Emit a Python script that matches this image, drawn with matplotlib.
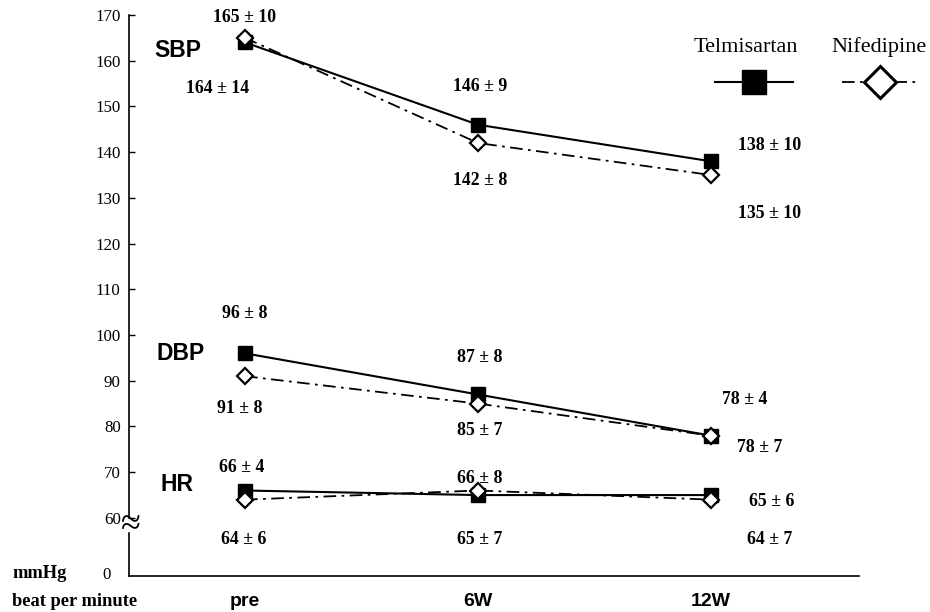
import matplotlib
matplotlib.use("Agg")
import matplotlib.pyplot as plt
from matplotlib.lines import Line2D
import matplotlib.transforms as mtransforms

# ---------------- data ----------------
timepoints = ["pre", "6W", "12W"]
sbp_telmi = [164, 146, 138]
sbp_telmi_sd = [14, 9, 10]
sbp_nife = [165, 142, 135]
sbp_nife_sd = [10, 8, 10]
dbp_telmi = [96, 87, 78]
dbp_telmi_sd = [8, 8, 4]
dbp_nife = [91, 85, 78]
dbp_nife_sd = [8, 7, 7]
hr_telmi = [66, 65, 65]
hr_telmi_sd = [4, 7, 6]
hr_nife = [64, 66, 64]
hr_nife_sd = [6, 8, 7]
yticks = [60, 70, 80, 90, 100, 110, 120, 130, 140, 150, 160, 170]
series_names = ["Telmisartan", "Nifedipine"]
group_names = ["SBP", "DBP", "HR"]

# ---------------- layout ----------------
SERIF = "Liberation Serif"
SANS = "Liberation Sans"
W, H = 930, 612
fig = plt.figure(figsize=(W / 100, H / 100), dpi=100)
ax = fig.add_axes([129 / W, 36 / H, (859 - 129) / W, (576 - 15) / H])

Y_ZERO = 47.3      # plotting position of the "0" level (axis is broken)
BREAK_LO, BREAK_HI = 56.6, 60.0
ax.set_ylim(Y_ZERO, 170)
ax.set_xlim(-0.498, 2.635)
x = list(range(len(timepoints)))

dashdot = (0, (7, 3, 1.5, 3))
telmi_style = dict(color="black", lw=1.5, marker="s", ms=10.5,
                   markerfacecolor="black", markeredgecolor="black", zorder=3)
nife_style = dict(color="black", lw=1.3, linestyle=dashdot, marker="D", ms=7.8,
                  markerfacecolor="white", markeredgecolor="black",
                  markeredgewidth=1.6, zorder=4)

for t in (sbp_telmi, dbp_telmi, hr_telmi):
    ax.plot(x, t, **telmi_style)
for n in (sbp_nife, dbp_nife, hr_nife):
    ax.plot(x, n, **nife_style)

# value labels: (values, sds, offsets in pixels (dx, dy up))
label_sets = [
    (sbp_telmi, sbp_telmi_sd, [(-27, -46), (2, 38), (59, 16)]),
    (sbp_nife, sbp_nife_sd, [(0, 20), (2, -37), (59, -38)]),
    (dbp_telmi, dbp_telmi_sd, [(0, 40), (2, 37), (34, 36)]),
    (dbp_nife, dbp_nife_sd, [(-5, -32), (2, -27), (49, -12)]),
    (hr_telmi, hr_telmi_sd, [(-3, 23), (2, -44), (61, -6)]),
    (hr_nife, hr_nife_sd, [(-1, -40), (2, 12), (59, -40)]),
]
for vals, sds, offs in label_sets:
    for i, (v, s, (dx, dy)) in enumerate(zip(vals, sds, offs)):
        ax.annotate(f"{v} ± {s}", xy=(i, v), xytext=(dx, dy),
                    textcoords="offset pixels", ha="center", va="center",
                    fontsize=12.8, fontweight="bold", family=SERIF)

# group labels
group_pos = [(-0.29, 162.2), (-0.277, 96.0), (-0.293, 67.4)]
for name, (gx, gy) in zip(group_names, group_pos):
    ax.text(gx, gy, name, fontsize=16.5, fontweight="bold", family=SANS,
            ha="center", va="center")

# axes styling
for sp in ("top", "right", "left"):
    ax.spines[sp].set_visible(False)
ax.spines["bottom"].set_linewidth(1.2)
trans = mtransforms.blended_transform_factory(ax.transAxes, ax.transData)
ax.plot([0, 0], [Y_ZERO, BREAK_LO], transform=trans, color="black", lw=1.2,
        clip_on=False)
ax.plot([0, 0], [BREAK_HI, 170], transform=trans, color="black", lw=1.2,
        clip_on=False)
ax.text(2 / 730, (BREAK_LO + BREAK_HI) / 2, "≈", transform=trans, ha="center",
        va="center", fontsize=26, family=SERIF)

ax.set_yticks(yticks)
ax.set_yticklabels([str(v) for v in yticks], family=SERIF, fontsize=12.2)
ax.tick_params(axis="y", direction="in", length=4, width=1.0, pad=6)
ax.text(-22 / 730, Y_ZERO + 0.3, "0", transform=trans, ha="center",
        va="center", fontsize=12.2, family=SERIF)

ax.set_xticks(x)
ax.set_xticklabels(timepoints, family=SANS, fontweight="bold", fontsize=14)
ax.tick_params(axis="x", length=0, pad=12)

# unit labels
fig.text(12 / W, 1 - 574 / H, "mmHg", ha="left", va="center",
         fontsize=13.3, fontweight="bold", family=SERIF)
fig.text(12 / W, 1 - 601 / H, "beat per minute", ha="left", va="center",
         fontsize=13.3, fontweight="bold", family=SERIF)

# custom legend
fig.text(746 / W, 1 - 47 / H, series_names[0], ha="center", va="center",
         fontsize=16, family=SERIF)
fig.text(879 / W, 1 - 47 / H, series_names[1], ha="center", va="center",
         fontsize=16, family=SERIF)
fig.add_artist(Line2D([715 / W, 793 / W], [1 - 82 / H, 1 - 82 / H],
                      transform=fig.transFigure, color="black", lw=1.5))
fig.add_artist(Line2D([754 / W], [1 - 82 / H], transform=fig.transFigure,
                      marker="s", ms=17, color="black", lw=0))
fig.add_artist(Line2D([842 / W, 920 / W], [1 - 82 / H, 1 - 82 / H],
                      transform=fig.transFigure, color="black", lw=1.3,
                      linestyle=dashdot))
fig.add_artist(Line2D([880 / W], [1 - 82 / H], transform=fig.transFigure,
                      marker="D", ms=16, color="black", lw=0,
                      markerfacecolor="white", markeredgewidth=2.2))

fig.savefig("out.png", dpi=100)
